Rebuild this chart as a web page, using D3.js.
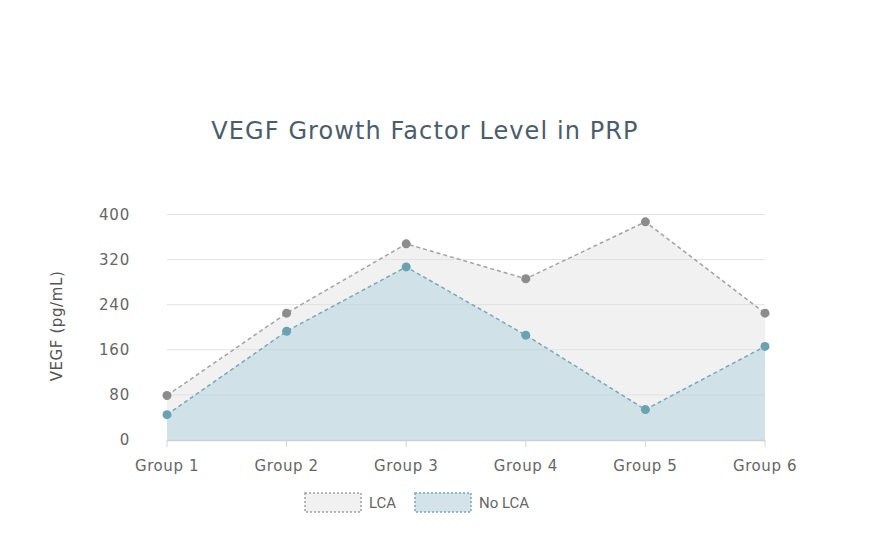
<!DOCTYPE html>
<html>
<head>
<meta charset="utf-8">
<script src="https://cdn.jsdelivr.net/npm/d3@7"></script>
<style>
  body { margin: 0; background: #fff; }
  svg { display: block; }
</style>
</head>
<body>
<svg width="881" height="542"></svg>
<script>
  const groups = ["Group 1", "Group 2", "Group 3", "Group 4", "Group 5", "Group 6"];
  const lcaValues = [79, 225, 348, 286, 387, 225];
  const noLcaValues = [45, 193, 307, 186, 54, 166];
  const yTicks = [0, 80, 160, 240, 320, 400];
  const seriesNames = ["LCA", "No LCA"];

  const svg = d3.select("svg");
  const font = "'DejaVu Sans', sans-serif";

  const x = d3.scalePoint().domain(groups).range([167, 765]);
  const y = d3.scaleLinear().domain([0, 400]).range([440, 214.5]);

  // title
  svg.append("text")
    .attr("x", 425).attr("y", 139)
    .attr("text-anchor", "middle")
    .attr("font-family", font)
    .attr("font-size", 24)
    .attr("letter-spacing", 1.1)
    .attr("fill", "#4b5c6b")
    .text("VEGF Growth Factor Level in PRP");

  // grid
  svg.append("g").selectAll("line").data(yTicks.slice(1)).join("line")
    .attr("x1", 167).attr("x2", 765)
    .attr("y1", d => y(d)).attr("y2", d => y(d))
    .attr("stroke", "#e3e3e3").attr("stroke-width", 1);

  // y labels
  svg.append("g").selectAll("text").data(yTicks).join("text")
    .attr("x", 130).attr("y", d => y(d) + 5)
    .attr("text-anchor", "end")
    .attr("font-family", font).attr("font-size", 15)
    .attr("letter-spacing", 0.8)
    .attr("fill", "#666")
    .text(d => d);

  svg.append("text")
    .attr("transform", "translate(62,326) rotate(-90)")
    .attr("text-anchor", "middle")
    .attr("font-family", font).attr("font-size", 15)
    .attr("letter-spacing", 0.6)
    .attr("fill", "#555")
    .text("VEGF (pg/mL)");

  const area = d3.area().x((d, i) => x(groups[i])).y0(y(0)).y1(d => y(d));
  const line = d3.line().x((d, i) => x(groups[i])).y(d => y(d));

  const styles = [
    { vals: lcaValues, fill: "rgba(225,225,225,0.45)", stroke: "#a3a3a3", dot: "#8c8c8c" },
    { vals: noLcaValues, fill: "rgba(155,200,215,0.38)", stroke: "#76a9b9", dot: "#6aa2b3" }
  ];

  styles.forEach(s => {
    svg.append("path").datum(s.vals).attr("d", area).attr("fill", s.fill);
  });
  styles.forEach(s => {
    svg.append("path").datum(s.vals).attr("d", line)
      .attr("fill", "none").attr("stroke", s.stroke)
      .attr("stroke-width", 1.5).attr("stroke-dasharray", "4,3");
  });
  styles.forEach(s => {
    svg.append("g").selectAll("circle").data(s.vals).join("circle")
      .attr("cx", (d, i) => x(groups[i])).attr("cy", d => y(d))
      .attr("r", 4.5).attr("fill", s.dot);
  });

  // x axis
  svg.append("line").attr("x1", 167).attr("x2", 765)
    .attr("y1", 440.5).attr("y2", 440.5)
    .attr("stroke", "#cfcfcf").attr("stroke-width", 1.5);
  svg.append("g").selectAll("line").data(groups).join("line")
    .attr("x1", d => x(d)).attr("x2", d => x(d))
    .attr("y1", 440).attr("y2", 447)
    .attr("stroke", "#d5d5d5");
  svg.append("g").selectAll("text").data(groups).join("text")
    .attr("x", d => x(d)).attr("y", 471)
    .attr("text-anchor", "middle")
    .attr("font-family", font).attr("font-size", 15)
    .attr("letter-spacing", 0.6)
    .attr("fill", "#666")
    .text(d => d);

  // legend
  const legend = [
    { name: seriesNames[0], bx: 305, fill: "#f1f1f1", stroke: "#a0a0a0" },
    { name: seriesNames[1], bx: 415, fill: "#d4e3e8", stroke: "#76a9b9" }
  ];
  legend.forEach(l => {
    svg.append("rect").attr("x", l.bx).attr("y", 493)
      .attr("width", 56).attr("height", 19)
      .attr("fill", l.fill).attr("stroke", l.stroke)
      .attr("stroke-width", 1.5).attr("stroke-dasharray", "2,2");
    svg.append("text").attr("x", l.bx + 64).attr("y", 508)
      .attr("font-family", "Roboto, sans-serif").attr("font-size", 15)
      .attr("fill", "#666").text(l.name);
  });
</script>
</body>
</html>
